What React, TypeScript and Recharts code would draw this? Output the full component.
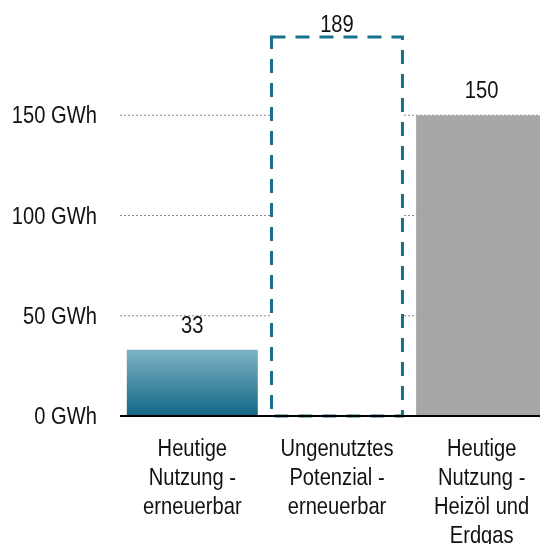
import { BarChart, Bar, XAxis, YAxis, CartesianGrid, Cell, LabelList } from "recharts";

const categories = [
  "Heutige\nNutzung -\nerneuerbar",
  "Ungenutztes\nPotenzial -\nerneuerbar",
  "Heutige\nNutzung -\nHeizöl und\nErdgas",
];
const values = [33, 189, 150];
const yTicks = [0, 50, 100, 150];
const gridValues = [50, 100, 150];

// no narrow font installed, so squeeze Liberation Sans like Arial Narrow
const FONT = "'Liberation Sans', Arial, sans-serif";
const SQUEEZE = 0.84;
const TEAL = "#16708e";

const data = categories.map((name, i) => ({ name, value: values[i] }));

function NarrowText({ x, y, anchor, children }: any) {
  return (
    <g transform={`translate(${x},${y}) scale(${SQUEEZE},1)`}>
      <text x={0} y={0} textAnchor={anchor} fill="#111" fontSize={24} fontFamily={FONT}>
        {children}
      </text>
    </g>
  );
}

function CategoryTick({ x, y, payload }: any) {
  const lines = String(payload.value).split("\n");
  return (
    <NarrowText x={x} y={y + 40} anchor="middle">
      {lines.map((l, i) => (
        <tspan key={i} x={0} dy={i === 0 ? 0 : 29}>
          {l}
        </tspan>
      ))}
    </NarrowText>
  );
}

function ValueTick({ x, y, payload }: any) {
  return (
    <NarrowText x={x} y={y + 8} anchor="end">
      {`${payload.value} GWh`}
    </NarrowText>
  );
}

function ValueLabel({ x, y, width, value }: any) {
  const baseY = Math.max(y - 17, 24);
  return (
    <NarrowText x={x + width / 2} y={baseY} anchor="middle">
      {value}
    </NarrowText>
  );
}

export default function App() {
  // fixed box so the overflowing chart is cut at the window edge without scrollbars
  return (
    <div style={{ position: "fixed", top: 8, left: 8, width: 532, height: 536, overflow: "hidden" }}>
      <BarChart
        width={560}
        height={560}
        data={data}
        margin={{ top: 7, right: 14, bottom: 0, left: 0 }}
        barCategoryGap="4.7%"
      >
        <defs>
          <linearGradient id="renewGrad" x1="0" y1="0" x2="0" y2="1">
            <stop offset="0%" stopColor="#7db2c5" />
            <stop offset="100%" stopColor="#116785" />
          </linearGradient>
        </defs>
        <CartesianGrid
          vertical={false}
          horizontalValues={gridValues}
          stroke="#8a8a8a"
          strokeDasharray="2 2"
        />
        <YAxis
          width={112}
          domain={[0, 200]}
          ticks={yTicks}
          axisLine={false}
          tickLine={false}
          tickSize={0}
          tickMargin={23}
          tick={<ValueTick />}
        />
        <XAxis
          dataKey="name"
          height={152}
          interval={0}
          axisLine={{ stroke: "#000", strokeWidth: 2 }}
          tickLine={false}
          tickSize={0}
          tickMargin={0}
          tick={<CategoryTick />}
        />
        <Bar dataKey="value" isAnimationActive={false}>
          {data.map((_, i) => (
            <Cell
              key={i}
              fill={i === 0 ? "url(#renewGrad)" : i === 1 ? "#ffffff" : "#a6a6a6"}
              stroke={i === 1 ? TEAL : "none"}
              strokeWidth={i === 1 ? 3 : 0}
              strokeDasharray={i === 1 ? "14 10" : undefined}
            />
          ))}
          <LabelList dataKey="value" content={<ValueLabel />} />
        </Bar>
      </BarChart>
    </div>
  );
}
